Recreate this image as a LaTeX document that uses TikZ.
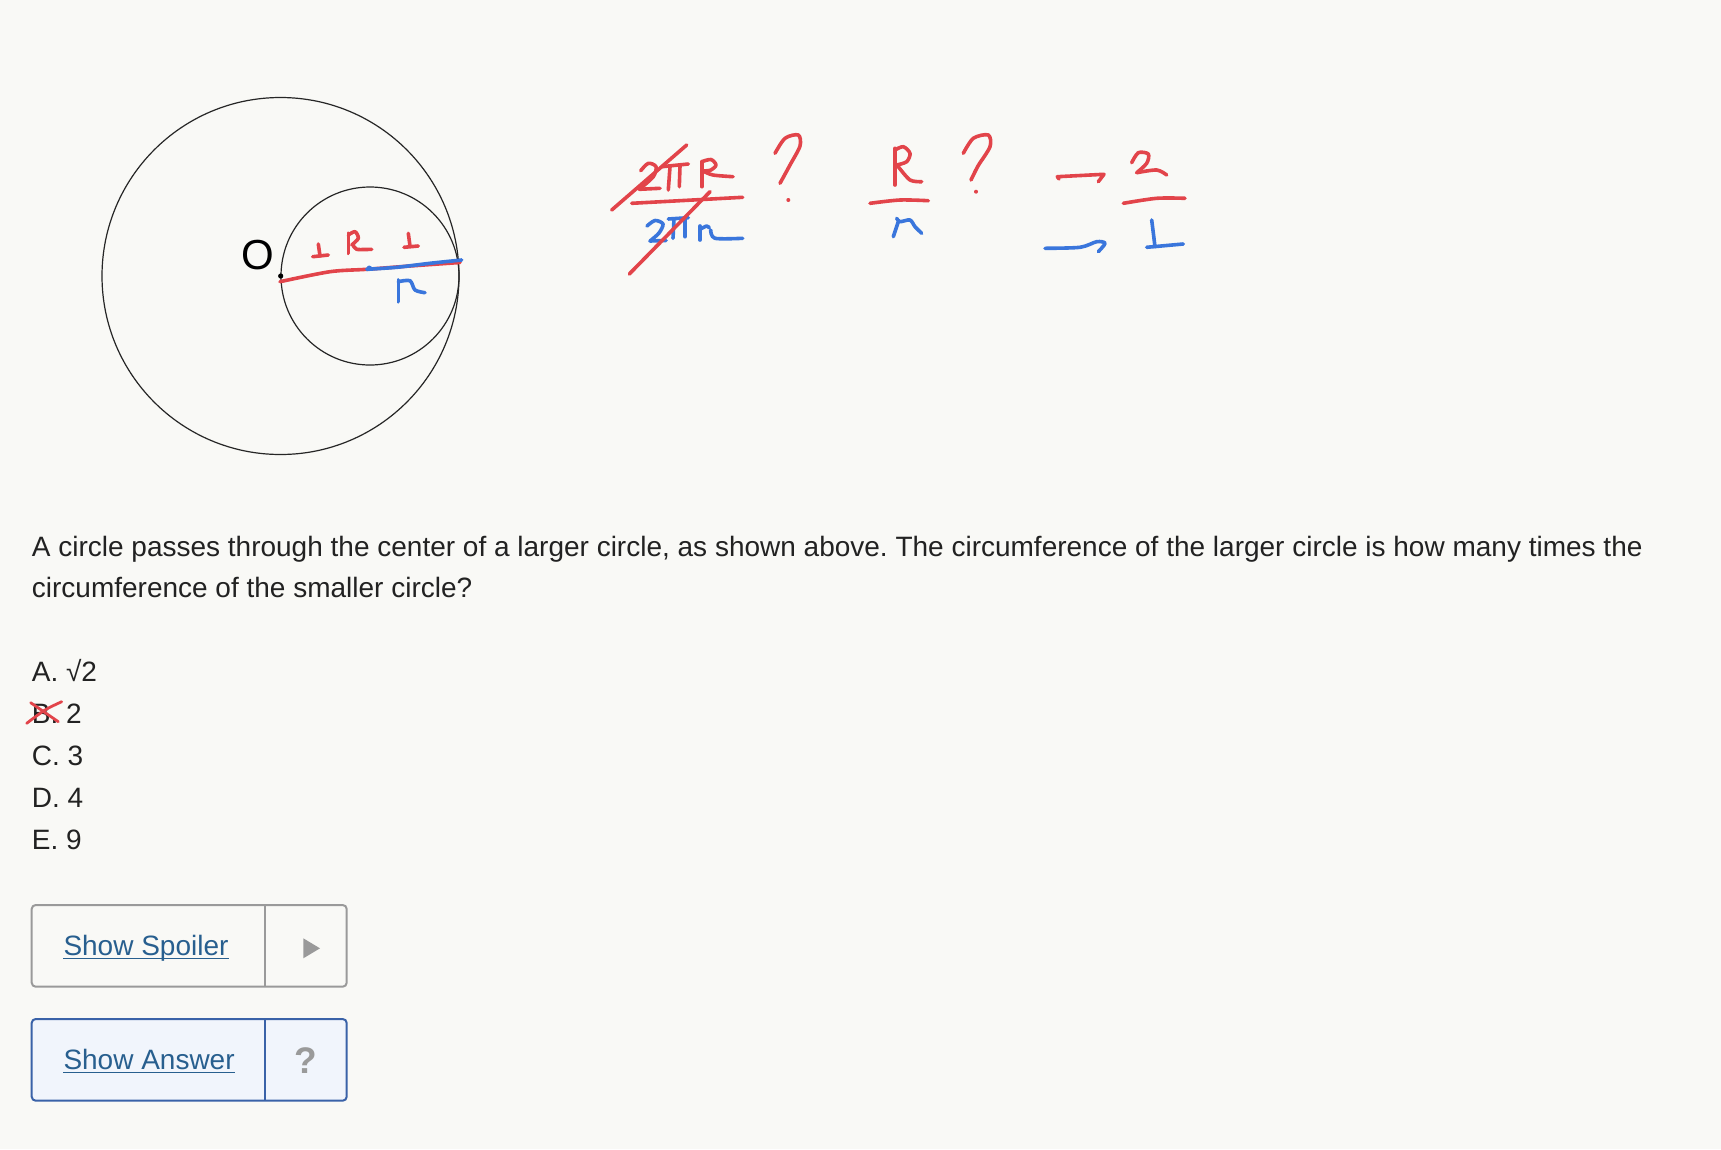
\documentclass[tikz,border=0pt]{standalone}
\usepackage{fontspec}
\setmainfont{Liberation Sans}
\frenchspacing
\definecolor{bgc}{HTML}{F9F9F6}
\definecolor{penred}{HTML}{E2444A}
\definecolor{penblue}{HTML}{3A76DC}
\definecolor{textc}{HTML}{222222}
\definecolor{linkc}{HTML}{285F8F}
\definecolor{greyb}{HTML}{9A9A9A}
\definecolor{blueb}{HTML}{3A62A8}
\definecolor{bluefill}{HTML}{F1F5FC}
\begin{document}
\begin{tikzpicture}[x=1pt,y=-1pt,
  redpen/.style={draw=penred, line width=3.6pt, line cap=round, line join=round},
  bluepen/.style={draw=penblue, line width=3.6pt, line cap=round, line join=round},
  circ/.style={draw=black!85, line width=1.2pt},
  txt/.style={inner sep=0pt, anchor=base west, text=textc, font=\fontsize{28}{32}\selectfont},
  link/.style={inner sep=0pt, anchor=base west, text=linkc, font=\fontsize{28}{32}\selectfont},
  btn/.style={line width=2pt, rounded corners=4pt}]
\fill[bgc] (0,0) rectangle (1721,1149);
% circles
\draw[circ] (280.5,276) circle[radius=178.5pt];
\draw[circ] (370,276) circle[radius=89pt];
\node[inner sep=0pt, text=black, font=\fontsize{42}{44}\selectfont] (O) at (258.3,255) {O};
% red and blue segments
\draw[redpen] plot[smooth] coordinates {(280,281.7) (330,271.7) (366.7,269.3) (410,266) (460,262.5)};
\draw[bluepen] plot[smooth] coordinates {(366.7,269.3) (396.7,267.3) (430,263.3) (461.7,260)};
\fill[penblue] (369.3,268.3) circle[radius=2.8pt];
\fill[black] (280.7,276) circle[radius=2.6pt];
% labels on segment
\draw[redpen] (318.3,244) -- (320,256);
\draw[redpen] (312.7,256.7) -- (328.3,255);
\draw[redpen] (348.3,233.3) -- (348.3,253.3);
\draw[redpen] plot[smooth] coordinates {(348.3,235) (355,231.7) (358.3,238.3) (351.7,245)};
\draw[redpen] plot[smooth] coordinates {(353.3,245) (356.7,249.3) (371.7,249.3)};
\draw[redpen] (408.3,233.3) -- (410,246);
\draw[redpen] (404,247.3) -- (418.3,246);
\draw[bluepen] (398.3,280) -- (398.3,301.7);
\draw[bluepen] plot[smooth] coordinates {(398.3,281.7) (410,280.7) (415,290) (425,292.7)};
% first fraction
\draw[redpen] plot[smooth] coordinates {(640.7,170.7) (648.3,163.3) (656,166.7) (653.3,176.7) (639.3,189.3)};
\draw[redpen] (639.3,189.3) -- (660,188.3);
\draw[redpen] (661.7,166.7) -- (688.3,164);
\draw[redpen] (670,166.7) -- (668.3,190);
\draw[redpen] (680,165.7) -- (679.3,186.7);
\draw[redpen] (701.7,161.7) -- (701.7,186.7);
\draw[redpen] plot[smooth] coordinates {(701.7,161.7) (711,159.5) (716,165) (711,170) (703,171)};
\draw[redpen] plot[smooth] coordinates {(703,171) (713,175) (733,176.7)};
\draw[redpen] (611.7,210) -- (686.7,145);
\draw[redpen] (631.7,203.3) -- (742.7,197.3);
\draw[bluepen] plot[smooth] coordinates {(647,226) (655,220.5) (663,224) (659,233) (650,241)};
\draw[bluepen] (650,241) -- (666,240.5);
\draw[bluepen] (668.3,219) -- (688.3,217.7);
\draw[bluepen] (674,219) -- (673,238.3);
\draw[bluepen] (685,218.3) -- (685,236.7);
\draw[bluepen] (700,226) -- (700,240);
\draw[bluepen] plot[smooth] coordinates {(700,229.3) (706.7,226) (709.3,228)};
\draw[bluepen] plot[smooth] coordinates {(710.7,230) (715,238.3) (742.7,238.3)};
\draw[redpen] (629.3,274) -- (710,191.7);
\draw[redpen] plot[smooth] coordinates {(775,153.3) (785,138.3) (798.3,135) (800,146) (790,165) (780,183.3)};
\fill[penred] (788.3,200) circle[radius=2pt];
% second fraction
\draw[redpen] (895,148.3) -- (895,185);
\draw[redpen] plot[smooth] coordinates {(895,150) (903.3,146.7) (910,153.3) (906.7,161.7) (896.7,165)};
\draw[redpen] plot[smooth] coordinates {(898.3,166.7) (910,180) (921.7,181.7)};
\draw[redpen] plot[smooth] coordinates {(870,203.3) (900,200) (928.3,200.7)};
\draw[bluepen] (893.3,236.7) -- (898.3,221.7);
\draw[bluepen] plot[smooth] coordinates {(896.7,218.3) (900,221.7) (910,220) (915,226.7) (921.7,233.3)};
\draw[redpen] plot[smooth] coordinates {(963.3,153.3) (973.3,138.3) (988.3,135) (990,146.7) (978,166) (971,180)};
\fill[penred] (976,191.7) circle[radius=2pt];
% arrows and 2/1
\draw[redpen] (1059,179) -- (1057.3,176.7) -- (1104,174.3) -- (1098.3,181.7);
\draw[redpen] plot[smooth] coordinates {(1131.7,162.7) (1138.3,152.7) (1148.3,154) (1146.7,163.3) (1136.7,172.7)};
\draw[redpen] plot[smooth] coordinates {(1136.7,172.7) (1156.7,170) (1166.7,175)};
\draw[redpen] plot[smooth] coordinates {(1123.3,203.3) (1156.7,198.3) (1185,198.3)};
\draw[bluepen] plot[smooth] coordinates {(1045,248.3) (1080,247.3) (1096.7,241.7) (1105,243.3) (1098.3,251.7)};
\draw[bluepen] (1151.7,220) -- (1155,246.7);
\draw[bluepen] (1146.7,247.3) -- (1183.3,244);
% question text
\node[txt] (q1) at (31.7,556.5) {A circle passes through the center of a larger circle, as shown above. The circumference of the larger circle is how many times the};
\node[txt] (q2) at (31.7,597.5) {circumference of the smaller circle?};
\node[txt] (oa) at (31.7,681.7) {A. √2};
\node[txt] (ob) at (31.7,723.3) {B. 2};
\node[txt] (oc) at (31.7,765.3) {C. 3};
\node[txt] (od) at (31.7,807.3) {D. 4};
\node[txt] (oe) at (31.7,849.3) {E. 9};
\draw[penred, line width=2.8pt, line cap=round] (30.7,702.7) -- (58.3,721.7);
\draw[penred, line width=2.8pt, line cap=round] plot[smooth] coordinates {(61.7,701.7) (45,710) (26.7,723.3)};
% buttons
\draw[btn, draw=greyb, fill=bgc] (31.7,905) rectangle (346.7,986.7);
\draw[greyb, line width=2pt] (265,905) -- (265,986.7);
\node[link] (sp) at (63.3,955) {Show Spoiler};
\draw[linkc, line width=1.3pt] ([yshift=-3.5pt]sp.base west) -- ([yshift=-3.5pt]sp.base east);
\fill[greyb] (303.3,938.3) -- (303.3,958.3) -- (320,948.3) -- cycle;
\draw[btn, draw=blueb, fill=bluefill] (31.7,1019) rectangle (346.7,1100.7);
\draw[blueb, line width=2pt] (265,1019) -- (265,1100.7);
\node[link] (sa) at (63.3,1069) {Show Answer};
\draw[linkc, line width=1.3pt] ([yshift=-3.5pt]sa.base west) -- ([yshift=-3.5pt]sa.base east);
\node[inner sep=0pt, anchor=base, text=greyb, font=\bfseries\fontsize{37}{40}\selectfont] (qm) at (306,1073.3) {?};
\end{tikzpicture}
\end{document}
